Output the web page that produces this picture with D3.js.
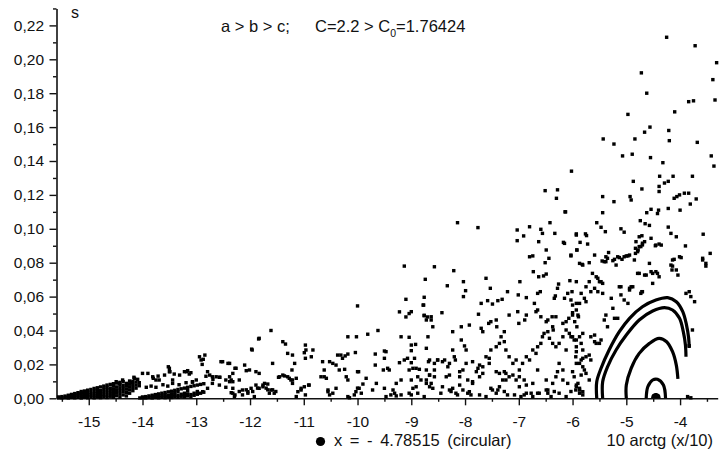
<!DOCTYPE html>
<html><head><meta charset="utf-8">
<script src="https://cdn.jsdelivr.net/npm/d3@7/dist/d3.min.js"></script>
<style>body{margin:0;background:#fff}svg{display:block}text{font-family:"Liberation Sans",Arial,sans-serif;fill:#111}</style>
</head><body><svg id="c" width="719" height="452"></svg>
<script>
const xTickValues=[-15,-14,-13,-12,-11,-10,-9,-8,-7,-6,-5,-4];
const xMinorValues=[-15.5,-14.5,-13.5,-12.5,-11.5,-10.5,-9.5,-8.5,-7.5,-6.5,-5.5,-4.5,-3.5];
const yTickValues=[0,0.02,0.04,0.06,0.08,0.10,0.12,0.14,0.16,0.18,0.20,0.22];
const yMinorValues=[0.01,0.03,0.05,0.07,0.09,0.11,0.13,0.15,0.17,0.19,0.21,0.23];

// dense wedge at the left end
const wedgeA=[[-15.56,0.0003],[-15.56,0.0008],[-15.50,0.0002],[-15.50,0.0010],[-15.44,0.0004],[-15.44,0.0013],
[-15.38,0.0002],[-15.38,0.0009],[-15.38,0.0018],[-15.32,0.0005],[-15.32,0.0014],[-15.32,0.0023],
[-15.26,0.0003],[-15.26,0.0011],[-15.26,0.0020],[-15.26,0.0028],[-15.20,0.0006],[-15.20,0.0016],[-15.20,0.0026],[-15.20,0.0033],
[-15.14,0.0002],[-15.14,0.0012],[-15.14,0.0022],[-15.14,0.0032],[-15.14,0.0040],[-15.08,0.0007],[-15.08,0.0018],[-15.08,0.0029],[-15.08,0.0043],
[-15.02,0.0003],[-15.02,0.0013],[-15.02,0.0025],[-15.02,0.0037],[-15.02,0.0048],[-14.96,0.0008],[-14.96,0.0020],[-14.96,0.0033],[-14.96,0.0052],
[-14.90,0.0003],[-14.90,0.0014],[-14.90,0.0027],[-14.90,0.0042],[-14.90,0.0058],[-14.84,0.0009],[-14.84,0.0022],[-14.84,0.0036],[-14.84,0.0050],[-14.84,0.0062],
[-14.78,0.0004],[-14.78,0.0016],[-14.78,0.0030],[-14.78,0.0045],[-14.78,0.0067],[-14.72,0.0010],[-14.72,0.0024],[-14.72,0.0040],[-14.72,0.0056],[-14.72,0.0072],
[-14.66,0.0005],[-14.66,0.0018],[-14.66,0.0034],[-14.66,0.0050],[-14.66,0.0065],[-14.66,0.0078],[-14.60,0.0012],[-14.60,0.0028],[-14.60,0.0045],[-14.60,0.0060],[-14.60,0.0082],
[-14.54,0.0006],[-14.54,0.0022],[-14.54,0.0039],[-14.54,0.0055],[-14.54,0.0072],[-14.54,0.0086],[-14.48,0.0015],[-14.48,0.0033],[-14.48,0.0050],[-14.48,0.0067],[-14.48,0.0090],
[-14.42,0.0009],[-14.42,0.0027],[-14.42,0.0045],[-14.42,0.0062],[-14.42,0.0080],[-14.42,0.0094],[-14.36,0.0020],[-14.36,0.0040],[-14.36,0.0058],[-14.36,0.0075],[-14.36,0.0098],
[-14.30,0.0014],[-14.30,0.0035],[-14.30,0.0054],[-14.30,0.0072],[-14.30,0.0088],[-14.24,0.0030],[-14.24,0.0050],[-14.24,0.0068],[-14.24,0.0085],[-14.24,0.0102],
[-14.18,0.0045],[-14.18,0.0064],[-14.18,0.0082],[-14.18,0.0100],[-14.12,0.0060],[-14.12,0.0078],[-14.12,0.0096],[-14.06,0.0074],[-14.06,0.0092]];

// second wedge starting near -14
const wedgeB=[[-14.05,0.0002],[-14.00,0.0003],[-14.00,0.0008],[-13.94,0.0002],[-13.94,0.0010],[-13.88,0.0004],[-13.88,0.0014],
[-13.82,0.0002],[-13.82,0.0009],[-13.82,0.0018],[-13.76,0.0005],[-13.76,0.0013],[-13.76,0.0022],[-13.70,0.0003],[-13.70,0.0010],[-13.70,0.0026],
[-13.64,0.0006],[-13.64,0.0016],[-13.64,0.0030],[-13.58,0.0004],[-13.58,0.0012],[-13.58,0.0022],[-13.58,0.0034],[-13.52,0.0008],[-13.52,0.0018],[-13.52,0.0038],
[-13.46,0.0005],[-13.46,0.0014],[-13.46,0.0026],[-13.46,0.0042],[-13.40,0.0010],[-13.40,0.0020],[-13.40,0.0032],[-13.40,0.0047],
[-13.34,0.0006],[-13.34,0.0016],[-13.34,0.0038],[-13.34,0.0052],[-13.28,0.0012],[-13.28,0.0024],[-13.28,0.0056],
[-13.22,0.0008],[-13.22,0.0018],[-13.22,0.0030],[-13.22,0.0060],[-13.16,0.0014],[-13.16,0.0026],[-13.16,0.0045],[-13.16,0.0065],
[-13.10,0.0010],[-13.10,0.0022],[-13.10,0.0070],[-13.04,0.0018],[-13.04,0.0030],[-13.04,0.0074],[-12.98,0.0024],[-12.98,0.0040],[-12.98,0.0078],
[-12.92,0.0030],[-12.92,0.0082],[-12.86,0.0036],[-12.86,0.0086]];

// scattered points -14.5 .. -12
const scatterL=[[-14.49,0.0098],[-14.43,0.0088],[-14.37,0.0108],[-14.21,0.0092],[-14.15,0.0118],[-14.09,0.0112],[-14.16,0.0124],[-13.90,0.0147],
[-14.0,0.0147],[-13.81,0.0127],[-13.75,0.0108],[-13.69,0.0108],[-13.59,0.0137],[-13.50,0.0177],[-13.50,0.0157],[-13.44,0.0108],[-13.41,0.0143],
[-13.31,0.0137],[-13.22,0.0157],[-13.16,0.0163],[-13.10,0.0151],[-13.07,0.0098],[-13.00,0.0108],
[-13.93,0.0065],[-13.84,0.0072],[-13.75,0.0065],[-13.62,0.0080],[-13.53,0.0072],[-13.44,0.0088],[-13.32,0.0080],[-13.19,0.0092],[-13.07,0.0095],
[-13.80,0.0118],[-13.71,0.0131],[-13.52,0.0186],[-13.49,0.0157],[-13.18,0.0157],[-13.13,0.0143],[-12.87,0.023],[-12.84,0.0255],[-12.89,0.020],
[-12.75,0.0137],[-12.69,0.0112],[-12.63,0.0127],[-12.56,0.0124],[-12.51,0.0216],[-12.41,0.0206],[-12.38,0.0127],[-12.28,0.0177],[-12.28,0.002],[-12.35,0.0033],
[-12.94,0.0245],[-12.91,0.0226],[-12.54,0.0216],[-12.38,0.0206],[-12.10,0.0196],[-12.07,0.0163],[-11.96,0.0285],[-11.83,0.0354],[-11.61,0.040],[-11.58,0.0206],
[-12.82,0.013],[-12.70,0.0127],[-12.57,0.0124],[-12.45,0.0108],[-12.38,0.0098],[-12.79,0.0157],[-12.70,0.0088],[-12.57,0.0078],[-12.45,0.0065],
[-12.32,0.0059],[-12.79,0.0059],[-12.88,0.0039],[-12.20,0.0108],[-12.32,0.0098]];

// scattered points -12.4 .. -10
const scatterC=[[-12.32,0.003],[-12.29,0.001],[-12.20,0.004],[-12.14,0.002],[-12.07,0.005],[-12.04,0.003],[-11.95,0.004],[-11.92,0.001],[-11.86,0.006],
[-11.76,0.0078],[-11.70,0.006],[-11.67,0.005],[-11.64,0.003],[-11.58,0.005],[-11.52,0.004],[-12.35,0.0108],[-12.32,0.0147],[-12.26,0.0177],
[-12.14,0.0049],[-12.04,0.0039],[-11.98,0.0059],[-11.89,0.0078],[-11.83,0.0059],[-11.76,0.0068],[-11.73,0.0088],[-11.67,0.0084],[-11.61,0.0049],
[-11.55,0.003],[-11.45,0.0127],[-11.39,0.0137],[-11.30,0.0127],[-11.24,0.0108],[-11.21,0.0088],[-11.11,0.0039],[-11.05,0.0059],[-10.99,0.0068],
[-10.91,0.0078],[-11.14,0.001],[-12.01,0.0167],[-11.89,0.0157],[-11.83,0.0147],[-11.84,0.035],[-11.97,0.029],
[-11.39,0.0334],[-11.34,0.032],[-11.30,0.0265],[-11.21,0.0255],[-11.17,0.0206],[-11.22,0.0167],[-11.47,0.0124],[-11.36,0.0132],[-11.27,0.0118],
[-11.21,0.0108],[-11.14,0.0118],[-10.97,0.0314],[-10.96,0.0285],[-10.83,0.0285],[-10.86,0.0245],[-10.97,0.0236],[-10.90,0.0078],[-11.05,0.0049],
[-10.97,0.002],[-10.65,0.0216],[-10.62,0.0167],[-10.52,0.0216],[-10.46,0.0206],[-10.40,0.0196],[-10.31,0.0255],[-10.23,0.025],[-10.34,0.0167],
[-10.21,0.0127],[-10.04,0.027],[-10.02,0.0363],[-9.98,0.0157],[-10.62,0.0127],[-10.55,0.0049],[-10.46,0.003],[-10.52,0.002],[-10.15,0.0003],
[-10.06,0.002],[-10.00,0.006],[-10.0,0.0545],[-10.18,0.0363],[-10.68,0.0127],[-10.58,0.0118],[-10.55,0.0039],[-10.40,0.0059],[-10.24,0.0171],
[-10.18,0.0108],[-10.18,0.001],[-10.99,0.0269],[-10.18,0.0261],[-10.37,0.0255],[-10.28,0.0236]];

// scattered points -10 .. -8.5
const scatterD=[[-9.81,0.0378],[-9.62,0.040],[-9.13,0.078],[-8.74,0.0702],[-9.10,0.0584],[-9.0,0.0511],[-9.04,0.050],[-9.10,0.048],[-9.22,0.051],
[-8.76,0.0596],[-8.78,0.055],[-8.76,0.049],[-8.70,0.048],[-9.67,0.0261],[-9.50,0.0279],[-9.67,0.0196],[-9.52,0.0167],[-9.44,0.0177],
[-9.19,0.0363],[-9.04,0.036],[-9.0,0.0314],[-8.92,0.0318],[-9.0,0.0281],[-9.22,0.021],[-9.13,0.0226],[-9.07,0.0236],[-8.94,0.0236],[-9.0,0.021],
[-8.91,0.0177],[-9.04,0.0167],[-8.85,0.0171],[-8.72,0.0462],[-8.69,0.0363],[-8.72,0.0295],[-8.68,0.0216],
[-10.0,0.0157],[-9.84,0.0118],[-9.90,0.0084],[-9.97,0.0059],[-10.03,0.0039],[-9.93,0.003],[-9.65,0.0088],[-9.72,0.0049],[-9.50,0.0059],[-9.47,0.001],
[-9.28,0.0014],[-9.19,0.002],[-9.0,0.0108],[-8.97,0.0059],[-8.91,0.0068],[-9.04,0.003],[-8.82,0.0108],[-8.72,0.0088],[-8.66,0.0068],
[-9.47,0.0275],[-9.50,0.0236],[-9.41,0.0167],[-8.97,0.0177],[-9.19,0.0108],[-9.28,0.0088],[-9.34,0.0049],[-9.38,0.002],[-9.31,0.003],[-9.0,0.002],
[-8.88,0.003],[-8.76,0.001]];

// scattered points -8.8 .. -5.5
const scatterE=[[-8.88,0.0127],[-8.72,0.0108],[-8.63,0.0088],[-8.66,0.0137],[-8.57,0.0167],[-8.51,0.0226],[-8.42,0.0216],[-8.32,0.0186],[-8.29,0.0137],
[-8.23,0.0059],[-8.10,0.0078],[-8.10,0.0157],[-7.95,0.0108],[-7.86,0.0098],[-7.79,0.0157],[-7.73,0.0196],[-7.67,0.0186],[-7.55,0.0236],[-7.42,0.0157],
[-7.36,0.0147],[-7.27,0.0157],[-7.24,0.0108],[-7.11,0.0137],[-6.99,0.0127],[-6.90,0.0108],[-6.86,0.0078],[-6.74,0.0088],[-6.65,0.0167],[-6.49,0.0108],
[-6.46,0.0049],[-6.40,0.001],[-6.28,0.0157],[-6.18,0.0108],[-6.09,0.0088],[-6.0,0.0157],[-5.93,0.0078],[-5.87,0.0059],[-5.81,0.0236],[-5.75,0.0147],
[-5.69,0.0108],[-5.97,0.0344],[-5.94,0.0245],[-5.84,0.0324],[-5.59,0.0373],[-5.56,0.0324],[-5.50,0.0324],
[-8.45,0.003],[-8.26,0.004],[-8.14,0.002],[-7.95,0.003],[-7.89,0.002],[-7.52,0.0059],[-7.39,0.0049],[-7.27,0.004],[-7.21,0.002],[-7.08,0.002],
[-6.96,0.001],[-6.90,0.002],[-6.77,0.003],[-6.65,0.003],[-6.46,0.003],[-6.34,0.004],[-6.03,0.004],[-5.94,0.0049],[-5.87,0.003],[-3.86,0.001],
[-6.51,0.1225],[-6.28,0.123],[-6.30,0.118],[-6.14,0.110],[-8.14,0.1036],[-7.76,0.1007],[-7.03,0.0993],[-7.03,0.093],[-6.91,0.0958],[-6.80,0.1012],
[-6.59,0.0997],[-6.56,0.0973],[-6.42,0.1036],[-6.33,0.0973],[-6.63,0.0924],[-6.15,0.0914],[-5.93,0.0963],[-5.92,0.0875],[-6.80,0.0835],[-6.74,0.084],
[-6.49,0.0875],[-6.44,0.0826],[-6.51,0.080],[-6.03,0.084],[-8.57,0.0776],[-8.21,0.0753],[-8.33,0.0664],[-8.03,0.0688],[-7.99,0.0635],
[-8.03,0.060],[-7.61,0.0708],[-7.53,0.0649],[-6.98,0.0688],[-6.73,0.0747],[-6.63,0.0717],[-6.54,0.0722],[-6.49,0.0733],[-7.21,0.0629],[-7.01,0.061],
[-6.86,0.0594],[-6.65,0.0619],[-6.60,0.0629],[-6.26,0.0674],[-6.28,0.0649],[-6.32,0.0604],[-6.34,0.059],[-6.05,0.0694],[-6.01,0.0629],[-6.09,0.0619],
[-6.15,0.059],[-5.93,0.056],[-8.77,0.055],[-8.76,0.0487],[-8.63,0.0481],[-8.63,0.0462],[-8.60,0.0422],[-8.43,0.0505],[-7.70,0.056],[-7.58,0.0576],
[-7.49,0.0556],[-7.39,0.0576],[-7.31,0.0584],[-7.75,0.0496],[-7.70,0.0413],[-7.67,0.0393],[-7.56,0.0442],[-7.52,0.0452],[-7.42,0.0462],[-7.41,0.0422],
[-7.27,0.0393],[-7.18,0.0491],[-7.02,0.0511],[-7.00,0.0442],[-6.89,0.0462],[-6.86,0.0491],[-6.71,0.056],[-6.68,0.0511],[-6.65,0.0521],[-6.59,0.0481],
[-6.49,0.0452],[-6.46,0.0462],[-6.38,0.0481],[-6.37,0.0422],[-6.36,0.0403],[-6.31,0.0481],[-6.18,0.0442],[-6.12,0.0452],[-6.07,0.0472],[-6.0,0.0505],
[-5.93,0.0521],[-5.89,0.0481],[-5.92,0.0422],
[-8.23,0.0393],[-8.07,0.0422],[-7.92,0.0432],[-8.07,0.0344],[-8.01,0.0309],[-7.98,0.0285],[-8.23,0.0285],[-8.20,0.0245],[-8.18,0.0226],[-8.29,0.0206],
[-8.38,0.0226],[-8.51,0.0226],[-8.57,0.0206],[-8.66,0.0226],[-8.72,0.0167],[-8.66,0.0137],[-8.57,0.0127],[-8.60,0.0059],[-8.42,0.0068],[-8.29,0.0049],
[-8.17,0.003],[-8.04,0.0049],[-7.92,0.0039],[-8.35,0.0127],[-8.10,0.0127],[-8.04,0.0167],[-7.98,0.0206],[-7.86,0.0216],[-7.76,0.0177],[-7.73,0.0127],
[-7.86,0.0088],[-7.67,0.0147],[-7.61,0.0245],[-7.55,0.0206],[-7.52,0.0285],[-7.42,0.0304],[-7.36,0.0324],[-7.33,0.0363],[-7.27,0.0334],[-7.24,0.0285],
[-7.18,0.0245],[-7.11,0.0206],[-7.05,0.0226],[-6.99,0.0167],[-6.93,0.0206],[-6.86,0.0245],[-6.80,0.0226],[-6.74,0.0285],[-6.68,0.0265],[-6.65,0.0304],
[-6.59,0.0324],[-6.56,0.0363],[-6.53,0.0383],[-6.46,0.0393],[-6.43,0.0354],[-6.37,0.0324],[-6.31,0.0304],[-6.25,0.0324],[-6.18,0.0363],[-6.12,0.0403],
[-6.06,0.0383],[-6.0,0.0363],[-6.12,0.0285],[-6.25,0.0206],[-6.18,0.0167],[-6.31,0.0127],[-6.37,0.0088],[-6.49,0.0049],[-6.62,0.003],[-6.74,0.001],
[-6.86,0.003],[-6.99,0.0068],[-7.05,0.0108],[-7.18,0.0127],[-7.24,0.0147],[-7.30,0.0108],[-7.36,0.0068],[-7.42,0.003],[-7.49,0.0049],[-7.61,0.001],
[-7.73,0.002],[-5.93,0.0304],[-5.93,0.0206],[-5.97,0.0127],[-5.90,0.0088],[-6.25,0.003],[-6.12,0.001]];

// scattered points on the right, -6.2 .. -3.3
const scatterR=[[-4.25,0.213],[-3.72,0.208],[-3.32,0.198],[-3.39,0.188],[-4.72,0.192],[-4.62,0.180],[-3.35,0.176],[-3.84,0.175],[-3.75,0.1755],
[-4.97,0.1675],[-4.10,0.169],[-4.56,0.160],[-4.66,0.157],[-4.21,0.158],[-4.20,0.152],[-5.43,0.153],[-5.23,0.150],[-4.84,0.153],[-3.68,0.151],
[-5.07,0.143],[-4.89,0.144],[-4.55,0.142],[-3.42,0.143],[-3.37,0.137],[-4.32,0.139],[-6.02,0.134],[-4.38,0.131],[-4.13,0.131],[-3.77,0.131],
[-4.87,0.128],[-4.22,0.128],[-4.29,0.127],[-4.39,0.125],[-4.71,0.1235],[-4.39,0.122],[-5.44,0.119],[-4.93,0.119],[-4.91,0.117],[-5.23,0.116],
[-4.11,0.118],[-4.06,0.119],[-4.01,0.12],[-3.92,0.121],[-3.84,0.121],[-3.70,0.1176],[-6.13,0.110],[-5.44,0.1095],[-4.62,0.1095],[-4.54,0.1115],
[-4.40,0.111],[-4.42,0.109],[-4.22,0.112],[-4.0,0.111],[-3.81,0.1146],[-5.55,0.1036],[-5.47,0.1009],[-5.39,0.0983],[-5.10,0.100],[-5.04,0.098],
[-4.74,0.1048],[-4.65,0.103],[-4.57,0.102],[-4.22,0.101],[-3.57,0.0968],[-5.93,0.097],[-5.76,0.097],[-5.74,0.096],[-6.17,0.092],[-5.86,0.092],
[-5.72,0.091],[-5.92,0.0875],[-6.03,0.0845],[-5.82,0.079],[-5.69,0.080],[-5.45,0.081],[-5.38,0.0835],[-5.33,0.086],[-5.22,0.082],[-5.13,0.083],
[-5.04,0.0835],[-4.97,0.084],[-4.83,0.0855],[-4.78,0.0875],[-4.73,0.0895],[-4.70,0.0915],[-4.46,0.090],[-4.39,0.091],[-4.11,0.082],[-3.98,0.083],
[-3.58,0.0816],[-3.52,0.078],[-4.76,0.0953],[-4.71,0.0959],[-4.82,0.0924],[-4.83,0.0885],[-4.76,0.0895],[-4.70,0.0905],[-4.66,0.0924],[-4.54,0.0944],
[-4.45,0.0904],[-4.35,0.0904],[-4.17,0.0973],[-4.07,0.0953],[-3.90,0.0899],[-3.44,0.0855],
[-5.87,0.0796],[-5.59,0.0845],[-5.41,0.0806],[-5.35,0.0826],[-5.25,0.0812],[-5.16,0.0835],[-5.08,0.082],[-5.0,0.084],[-4.94,0.0845],[-4.79,0.0865],
[-4.57,0.0796],[-4.45,0.0747],[-4.14,0.0816],[-4.01,0.0835],[-4.14,0.078],[-4.15,0.0757],[-4.04,0.0727],[-3.58,0.0826],
[-5.63,0.0737],[-5.69,0.0688],[-5.56,0.0717],[-5.50,0.0688],[-5.44,0.0678],[-5.75,0.0658],[-5.59,0.0649],[-5.53,0.0629],[-5.66,0.0629],
[-5.13,0.0658],[-4.94,0.0649],[-4.88,0.0658],[-4.79,0.0737],[-4.63,0.0727],[-4.54,0.0747],[-4.51,0.0678],[-4.71,0.0629],[-5.10,0.061],
[-3.89,0.0619],[-3.83,0.0629],[-3.80,0.060],[-3.73,0.057],[-3.77,0.0403],[-3.80,0.0003],[-3.83,0.031],
[-5.81,0.0786],[-5.38,0.0806],[-5.19,0.0786],[-4.85,0.0816],[-4.17,0.0786],[-4.07,0.0757],[-3.52,0.0796],
[-5.53,0.0708],[-5.47,0.0688],[-5.93,0.0688],[-5.84,0.0619],[-6.03,0.058],[-6.0,0.055],[-5.87,0.056],[-5.78,0.059],[-5.75,0.057],[-5.44,0.0619],
[-5.28,0.059],[-5.10,0.0658],[-4.94,0.0639],[-4.91,0.0658],[-4.76,0.0737],[-4.66,0.0727],[-4.51,0.0737],[-4.42,0.0737],[-4.39,0.0717],[-4.73,0.0619],
[-4.70,0.0629],[-5.04,0.058],[-4.97,0.056],[-5.25,0.0531],[-5.38,0.0491],[-5.41,0.0462],[-5.22,0.0472],[-5.16,0.0472],[-5.35,0.0422],[-5.90,0.0491],
[-6.0,0.0491],[-5.96,0.0452],[-6.03,0.0363],[-5.87,0.0363],[-5.93,0.0344],[-5.81,0.0383],[-5.66,0.0363],[-5.59,0.0334],[-5.47,0.0344],
[-5.93,0.0275],[-5.81,0.0285],[-5.84,0.0226],[-5.75,0.0245],[-5.69,0.0255],[-5.66,0.0226],[-5.87,0.0206],[-5.81,0.0186],[-5.78,0.0167],
[-5.84,0.0137],[-5.93,0.0068],[-5.87,0.0049],[-5.81,0.0039],[-5.81,0.002]];

// invariant curves around the circular orbit
const curve1=[[-5.55,0],[-5.55,0.0098],[-5.47,0.0177],[-5.32,0.0285],[-5.13,0.0393],[-4.94,0.0472],[-4.70,0.054],[-4.45,0.058],[-4.23,0.0594],
[-4.07,0.057],[-3.95,0.0511],[-3.88,0.0432],[-3.84,0.0354],[-3.83,0.0297]];
const curve2=[[-5.44,0],[-5.44,0.0098],[-5.35,0.0186],[-5.19,0.0285],[-5.0,0.0373],[-4.76,0.0462],[-4.51,0.0515],[-4.29,0.0535],[-4.14,0.0521],
[-4.01,0.0472],[-3.94,0.0393],[-3.90,0.0314],[-3.89,0.0245]];
const curve3=[[-5.0,0],[-5.0,0.0078],[-4.91,0.0177],[-4.76,0.0265],[-4.57,0.0324],[-4.39,0.0354],[-4.25,0.0334],[-4.14,0.0275],[-4.07,0.0196],[-4.04,0.0114]];
const curve4=[[-4.63,0],[-4.60,0.0068],[-4.51,0.0108],[-4.42,0.0112],[-4.31,0.0078],[-4.27,0]];
const blob=[[-4.54,0],[-4.52,0.0022],[-4.45,0.0031],[-4.38,0.0022],[-4.36,0]];

const svg=d3.select("#c");
const x=d3.scaleLinear().domain([-15.6,-3.3]).range([56.5,717.7]);
const y=d3.scaleLinear().domain([0,0.23]).range([398.3,8.45]);
const commaFmt=d3.formatLocale({decimal:",",thousands:".",grouping:[3],currency:["",""],minus:"-"}).format(".2f");

// axes
const gx=svg.append("g").attr("transform",`translate(0,${y(0)})`)
  .call(d3.axisBottom(x).tickValues(xTickValues).tickSize(7).tickSizeOuter(0).tickFormat(d=>String(d)));
const gxm=svg.append("g").attr("transform",`translate(0,${y(0)})`)
  .call(d3.axisBottom(x).tickValues(xMinorValues).tickSize(3.5).tickSizeOuter(0).tickFormat(""));
const gy=svg.append("g").attr("transform",`translate(${x(-15.6)},0)`)
  .call(d3.axisLeft(y).tickValues(yTickValues).tickSize(7).tickSizeOuter(0).tickFormat(commaFmt));
const gym=svg.append("g").attr("transform",`translate(${x(-15.6)},0)`)
  .call(d3.axisLeft(y).tickValues(yMinorValues).tickSize(3.5).tickSizeOuter(0).tickFormat(""));
[gx,gxm,gy,gym].forEach(g=>{g.selectAll("path.domain").attr("stroke","#111").attr("stroke-width",1.6);
  g.selectAll(".tick line").attr("stroke","#111").attr("stroke-width",1.4);});
gxm.select("path.domain").remove(); gym.select("path.domain").remove();
gx.selectAll(".tick text").attr("y",18).attr("font-size",15.5).attr("font-family","Liberation Sans, Arial, sans-serif").attr("fill","#111");
gy.selectAll(".tick text").attr("x",-12.5).attr("font-size",15.5).attr("font-family","Liberation Sans, Arial, sans-serif").attr("fill","#111");

// points
const allPts=[].concat(wedgeA,wedgeB,scatterL,scatterC,scatterD,scatterE,scatterR);
const ps=3.4;
svg.append("g").selectAll("rect").data(allPts).join("rect")
  .attr("x",d=>x(d[0])-ps/2).attr("y",d=>y(d[1])-ps/2).attr("width",ps).attr("height",ps).attr("fill","#000");

// curves
const line=d3.line().x(d=>x(d[0])).y(d=>y(d[1])).curve(d3.curveCatmullRom.alpha(0.5));
svg.append("g").selectAll("path").data([curve1,curve2,curve3,curve4]).join("path")
  .attr("d",line).attr("fill","none").attr("stroke","#000").attr("stroke-width",3.2);
svg.append("path").attr("d",d3.line().x(d=>x(d[0])).y(d=>y(d[1])).curve(d3.curveCatmullRom)(blob)+"Z").attr("fill","#000");

// texts
svg.append("text").attr("x",71).attr("y",18).attr("font-size",16).text("s");
svg.append("text").attr("x",221).attr("y",32).attr("font-size",16.5).text("a > b > c;");
const t2=svg.append("text").attr("x",315).attr("y",32).attr("font-size",16.5);
t2.append("tspan").text("C=2.2 > C");
t2.append("tspan").attr("font-size",10.5).attr("dy",5).text("0");
t2.append("tspan").attr("dy",-5).text("=1.76424");
svg.append("circle").attr("cx",320.5).attr("cy",441.5).attr("r",4.6).attr("fill","#000");
svg.append("text").attr("x",334).attr("y",446).attr("font-size",16.5).attr("word-spacing",3).text("x = - 4.78515 (circular)");
svg.append("text").attr("x",713).attr("y",446).attr("text-anchor","end").attr("font-size",16.5).text("10 arctg (x/10)");
</script></body></html>
